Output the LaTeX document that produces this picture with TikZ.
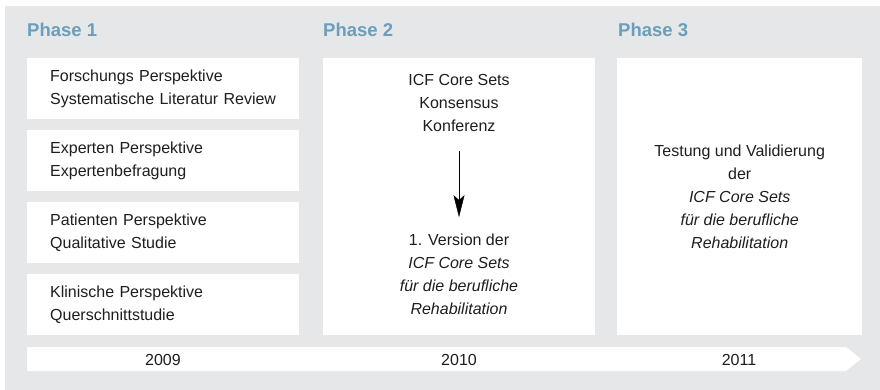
\documentclass[tikz,border=0pt]{standalone}
\usepackage{fontspec}
\setmainfont{Liberation Sans}
\usepackage{xcolor}
\usetikzlibrary{arrows.meta}

\definecolor{hgrau}{HTML}{E6E7E9}
\definecolor{phasenblau}{HTML}{6A9EBC}
\definecolor{schrift}{HTML}{1E1E1E}

\tikzset{
	phase/.style = {anchor = base west, inner sep = 0pt, text = phasenblau, font = \fontsize{18.5}{22}\selectfont\bfseries},
	kasten/.style = {fill = white, anchor = north west, inner sep = 0pt, text = schrift, font = \fontsize{16}{23}\selectfont},
	perspektive/.style = {kasten, minimum height = 61pt, inner xsep = 23pt, text width = 226pt, align = left},
	inhalt/.style = {text = schrift, align = center, font = \fontsize{16}{23}\selectfont},
	jahr/.style = {text = schrift, font = \fontsize{16}{20}\selectfont}
}

\begin{document}
\begin{tikzpicture}[x = 1pt, y = -1pt]
		\useasboundingbox (0,0) rectangle (880,390);
		\fill[hgrau] (5,6) rectangle (880,390);

		% Phase 1
		\node[phase] (p1) at (27,37) {Phase 1};
		\node[perspektive] (forschung) at (27,58) {Forschungs Perspektive\\Systematische Literatur Review};
		\node[perspektive] (experten) at (27,130) {Experten Perspektive\\Expertenbefragung};
		\node[perspektive] (patienten) at (27,202) {Patienten Perspektive\\Qualitative Studie};
		\node[perspektive] (klinik) at (27,274) {Klinische Perspektive\\Querschnittstudie};

		% Phase 2
		\node[phase] (p2) at (323,37) {Phase 2};
		\node[kasten, minimum width = 272pt, minimum height = 277pt] (konferenz) at (323,58) {};
		\node[inhalt] (konsens) at (459,103) {ICF Core Sets\\Konsensus\\Konferenz};
		\node[inhalt] (version) at (459,274) {1. Version der\\\textit{ICF Core Sets}\\\textit{für die berufliche}\\\textit{Rehabilitation}};
		\draw[-{Stealth[length = 22pt, width = 11pt, inset = 5pt]}, thin, shorten < = 16pt, shorten > = 13pt] (konsens.south) -- (version.north);

		% Phase 3
		\node[phase] (p3) at (618,37) {Phase 3};
		\node[kasten, minimum width = 245pt, minimum height = 277pt, align = center] (validierung) at (617,58)
			{Testung und Validierung\\der\\\textit{ICF Core Sets}\\\textit{für die berufliche}\\\textit{Rehabilitation}};

		% Zeitachse
		\fill[white] (27,347) -- (846,347) -- (861,359) -- (846,371) -- (27,371) -- cycle;
		\node[jahr] (j2009) at (163,360) {2009};
		\node[jahr] (j2010) at (459,360) {2010};
		\node[jahr] (j2011) at (739,360) {2011};
	\end{tikzpicture}
\end{document}
